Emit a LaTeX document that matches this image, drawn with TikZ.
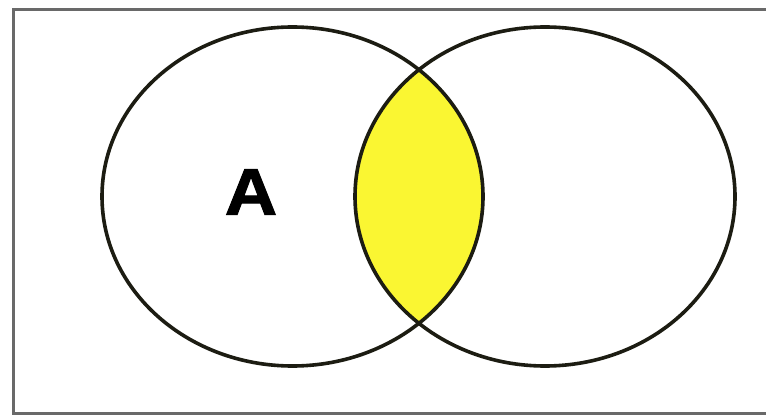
\documentclass[tikz,border=0pt]{standalone}
\usepackage{fontspec}
\usetikzlibrary{shapes.geometric}
\newfontfamily\labelfont[FakeBold=1.5]{Liberation Sans Bold}
\definecolor{lensyellow}{RGB}{250,246,50}
\definecolor{framegray}{RGB}{105,105,105}
\definecolor{ringcol}{RGB}{28,28,18}
\begin{document}
\begin{tikzpicture}[x=1pt,y=-1pt,
  ring/.style={ellipse,draw=ringcol,line width=3.6pt,inner sep=0pt,outer sep=0pt},
  frame/.style={draw=framegray,line width=3pt}]
\useasboundingbox (0,0) rectangle (766,417);
\fill[white] (0,0) rectangle (766,417);
% frame (right edge cut off)
\draw[frame] (780,9.5) -- (13,9.5) -- (13,413.5) -- (780,413.5);
% intersection fill
\begin{scope}
  \clip (292.5,196.5) ellipse [x radius=190.5, y radius=169.5];
  \fill[lensyellow] (545,196.5) ellipse [x radius=190, y radius=169.5];
\end{scope}
\node[ring,minimum width=381pt,minimum height=339pt] (L) at (292.5,196.5) {};
\node[ring,minimum width=380pt,minimum height=339pt] (R) at (545,196.5) {};
\node[inner sep=0pt] (a) at (251,192) {\scalebox{1.1}[1]{\labelfont\fontsize{66}{66}\selectfont A}};
\end{tikzpicture}
\end{document}
